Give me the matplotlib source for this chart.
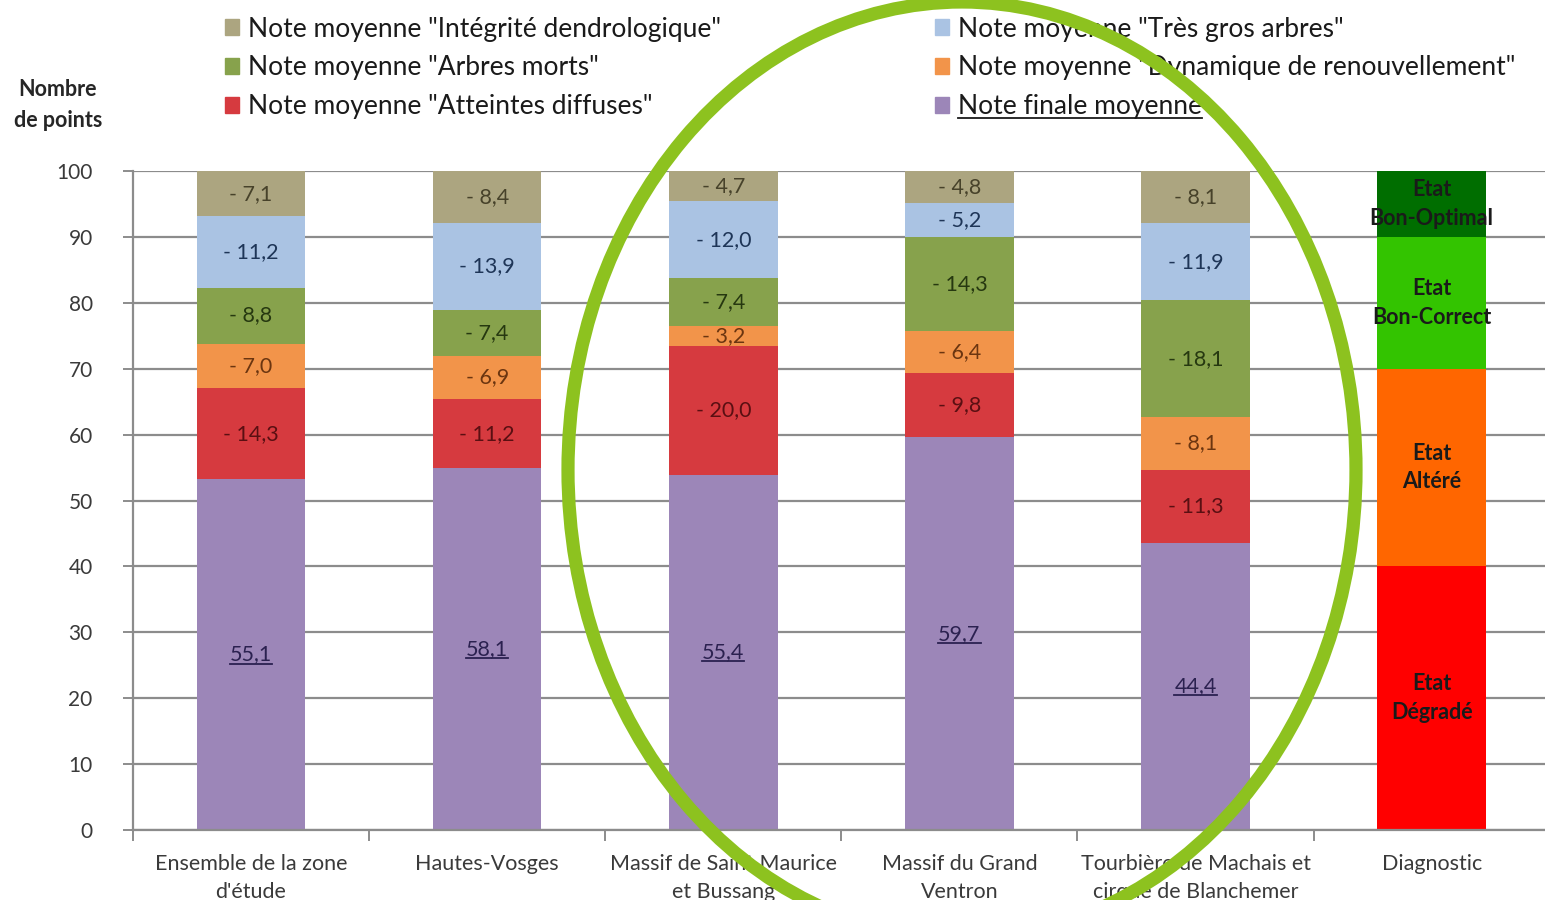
import matplotlib.pyplot as plt
from matplotlib.patches import Ellipse, Patch
from matplotlib.lines import Line2D
import numpy as np

plt.rcParams['font.family'] = ['Lato', 'DejaVu Sans']

zones = ["Ensemble de la zone\nd'étude", "Hautes-Vosges", "Massif de Saint Maurice\net Bussang",
         "Massif du Grand\nVentron", "Tourbière de Machais et\ncirque de Blanchemer"]
note_finale = [55.1, 58.1, 55.4, 59.7, 44.4]
atteintes = [14.3, 11.2, 20.0, 9.8, 11.3]
dynamique = [7.0, 6.9, 3.2, 6.4, 8.1]
arbres_morts = [8.8, 7.4, 7.4, 14.3, 18.1]
gros_arbres = [11.2, 13.9, 12.0, 5.2, 11.9]
integrite = [7.1, 8.4, 4.7, 4.8, 8.1]

diag_label = "Diagnostic"
diag_bands = [40, 30, 20, 10]
diag_names = ["Etat\nDégradé", "Etat\nAltéré", "Etat\nBon-Correct", "Etat\nBon-Optimal"]
diag_colors = ["#FF0000", "#FF6600", "#33C400", "#006E00"]

series = [
    ("Note finale moyenne", note_finale, "#9C86B8", "#2B2150"),
    ('Note moyenne "Atteintes diffuses"', atteintes, "#D63A3F", "#5A0F12"),
    ('Note moyenne "Dynamique de renouvellement"', dynamique, "#F2944A", "#6B3510"),
    ('Note moyenne "Arbres morts"', arbres_morts, "#87A24C", "#263810"),
    ('Note moyenne "Très gros arbres"', gros_arbres, "#AAC3E3", "#1E3557"),
    ('Note moyenne "Intégrité dendrologique"', integrite, "#ACA580", "#47422A"),
]

fig = plt.figure(figsize=(15.45, 9), dpi=100)
ax = fig.add_axes([133 / 1545, 1 - 830 / 900, 1 - 133 / 1545, (830 - 171) / 900])

x = np.arange(len(zones))
totals = np.sum([s[1] for s in series], axis=0)
width = 0.46
bottom = np.zeros(len(zones))
value_texts = []
for i, (name, vals, col, tcol) in enumerate(series):
    vals = np.array(vals)
    h = vals / totals * 100
    ax.bar(x, h, width, bottom=bottom, color=col, zorder=2)
    for xi, b, hi, v in zip(x, bottom, h, vals):
        lab = ("%.1f" % v).replace(".", ",")
        if i > 0:
            lab = "- " + lab
        t = ax.text(xi, b + hi / 2, lab, ha="center", va="center", fontsize=15.5,
                    color=tcol, zorder=3)
        if i == 0:
            value_texts.append(t)
    bottom += h

# diagnostic bar
xd = len(zones)
b = 0
for hgt, nm, col in zip(diag_bands, diag_names, diag_colors):
    ax.bar(xd, hgt, width, bottom=b, color=col, zorder=2)
    ax.text(xd, b + hgt / 2, nm, ha="center", va="center", fontsize=15.5,
            fontweight="bold", color="#1A1A1A", linespacing=1.45, zorder=3)
    b += hgt

ax.set_ylim(0, 100)
ax.set_xlim(-0.5, 5.48)
ax.set_yticks(range(0, 101, 10))
ax.yaxis.grid(True, color="#8C8C8C", lw=1.6, zorder=0)
ax.set_xticks(list(x) + [xd])
ax.set_xticklabels(zones + [diag_label], fontsize=15.5, color="#3A3A3A", linespacing=1.5)
ax.set_xticks(np.arange(-0.5, 5.5, 1.0), minor=True)
ax.tick_params(axis="x", which="major", length=0, pad=17)
ax.tick_params(axis="x", which="minor", length=8, color="#8C8C8C", width=1.4)
ax.tick_params(axis="y", length=7, color="#8C8C8C", width=1.4, labelsize=15,
               labelcolor="#3A3A3A", pad=22)
for s in ["top", "right"]:
    ax.spines[s].set_visible(False)
for s in ["left", "bottom"]:
    ax.spines[s].set_color("#8C8C8C")
    ax.spines[s].set_linewidth(1.6)

fig.text(58 / 1545, 1 - 105 / 900, "Nombre\nde points", ha="center", va="center",
         fontsize=15.5, fontweight="bold", color="#262626", linespacing=1.55)

# legends (two columns)
order1 = [5, 3, 1]
order2 = [4, 2, 0]
for order, xpos in [(order1, 214 / 1545), (order2, 924 / 1545)]:
    handles = [Patch(color=series[k][2]) for k in order]
    labels = [series[k][0] for k in order]
    leg = fig.legend(handles, labels, loc="upper left", bbox_to_anchor=(xpos, 1 - 6 / 900),
                     frameon=False, fontsize=19, handlelength=0.55, handleheight=0.55,
                     handletextpad=0.35, labelspacing=0.52, borderaxespad=0)
    for txt in leg.get_texts():
        txt.set_color("#1A1A1A")

fig.canvas.draw()
renderer = fig.canvas.get_renderer()
inv = fig.transFigure.inverted()
underline_texts = value_texts + [t for t in fig.legends[1].get_texts()
                                 if t.get_text() == "Note finale moyenne"]
for t in underline_texts:
    bb = t.get_window_extent(renderer)
    (x0, y0), (x1, y1) = inv.transform([[bb.x0, bb.y0 + 1], [bb.x1, bb.y0 + 1]])
    fig.add_artist(Line2D([x0, x1], [y0, y1], transform=fig.transFigure,
                          color=t.get_color(), lw=1.3, zorder=4))

fig.add_artist(Ellipse((962 / 1545, 1 - 470 / 900), 788 / 1545, 936 / 900,
                       transform=fig.transFigure, fill=False, ec="#8DC21F", lw=9.5, zorder=10))

fig.savefig("out.png", dpi=100)
